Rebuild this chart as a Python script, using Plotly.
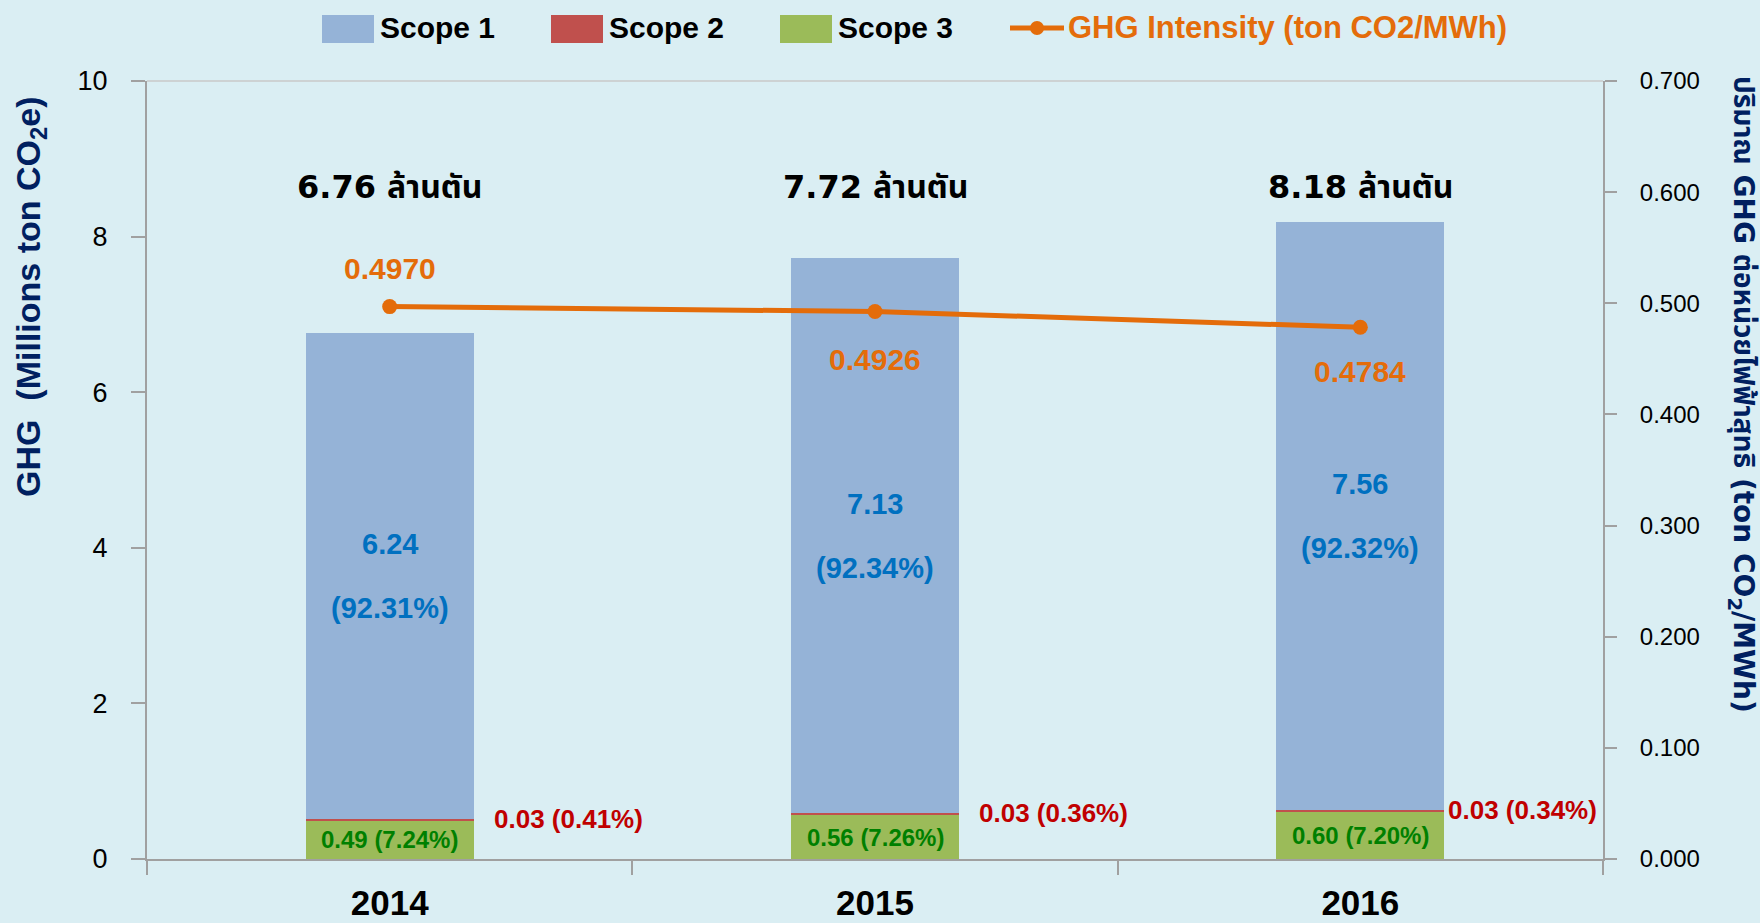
import plotly.graph_objects as go

# ---------------- data ----------------
years = ["2014", "2015", "2016"]
scope1 = [6.24, 7.13, 7.56]
scope2 = [0.03, 0.03, 0.03]
scope3 = [0.49, 0.56, 0.60]
scope1_pct = ["92.31%", "92.34%", "92.32%"]
scope2_pct = ["0.41%", "0.36%", "0.34%"]
scope3_pct = ["7.24%", "7.26%", "7.20%"]
totals = [6.76, 7.72, 8.18]
intensity = [0.4970, 0.4926, 0.4784]
y_ticks = [0, 2, 4, 6, 8, 10]
y2_ticks = [0.0, 0.1, 0.2, 0.3, 0.4, 0.5, 0.6, 0.7]
series_names = ["Scope 1", "Scope 2", "Scope 3", "GHG Intensity (ton CO2/MWh)"]

# ---------------- style ----------------
W, H = 1760, 923
ML, MR, MT, MB = 147, 157, 81, 64
PW, PH = W - ML - MR, H - MT - MB
BG = "#DAEEF3"
C1, C2, C3, CO = "#95B3D7", "#C0504D", "#9BBB59", "#E46C0A"
NAVY = "#002060"
AX = "#A0A0A0"
FONT = "Liberation Sans, Arial, sans-serif"
THAI = "DejaVu Sans, Noto Sans Thai, Loma, Garuda, sans-serif"


def px(x):
    return (x - ML) / PW


def py(y):
    return (H - MB - y) / PH


fig = go.Figure()
fig.add_trace(go.Bar(x=years, y=scope3, name=series_names[2], marker=dict(color=C3, line_width=0), showlegend=False))
fig.add_trace(go.Bar(x=years, y=scope2, name=series_names[1], marker=dict(color=C2, line_width=0), showlegend=False))
fig.add_trace(go.Bar(x=years, y=scope1, name=series_names[0], marker=dict(color=C1, line_width=0), showlegend=False))
fig.add_trace(go.Scatter(x=years, y=intensity, name=series_names[3], yaxis="y2", mode="lines+markers",
                         line=dict(color=CO, width=5), marker=dict(color=CO, size=15), showlegend=False))

ann = []
for i, yr in enumerate(years):
    base1 = scope3[i] + scope2[i]
    mid1 = base1 + scope1[i] / 2
    # Scope 1 labels
    ann.append(dict(x=i, y=mid1, yshift=32, text=f"<b>{scope1[i]:.2f}</b>", showarrow=False, yanchor="middle",
                    font=dict(family=FONT, size=29, color="#0070C0")))
    ann.append(dict(x=i, y=mid1, yshift=-32, text=f"<b>({scope1_pct[i]})</b>", showarrow=False, yanchor="middle",
                    font=dict(family=FONT, size=29, color="#0070C0")))
    # Scope 3 label
    ann.append(dict(x=i, y=scope3[i] / 2, text=f"<b>{scope3[i]:.2f} ({scope3_pct[i]})</b>", showarrow=False,
                    yanchor="middle", font=dict(family=FONT, size=24, color="#008000")))
    # Scope 2 label
    ann.append(dict(x=i, y=base1, xshift=[102, 102, 86][i], xanchor="left", yanchor="middle",
                    text=f"<b>{scope2[i]:.2f} ({scope2_pct[i]})</b>",
                    showarrow=False, font=dict(family=FONT, size=26, color="#C00000")))
    # total label
    ann.append(dict(x=i, y=8.64, text=f"<b>{totals[i]:.2f} ล้านตัน</b>", showarrow=False, yanchor="middle",
                    font=dict(family=THAI, size=32, color="#000000")))
    # intensity label
    ann.append(dict(x=i, y=intensity[i], yref="y2", yshift=[38, -48, -44][i], text=f"<b>{intensity[i]:.4f}</b>",
                    showarrow=False, yanchor="middle", font=dict(family=FONT, size=30, color=CO)))

# axis titles
ann.append(dict(xref="paper", yref="paper", x=px(30), y=py(297), xanchor="center", yanchor="middle",
                textangle=-90, showarrow=False,
                text="<b>GHG  (Millions ton CO<sub>2</sub>e)</b>", font=dict(family=FONT, size=34, color=NAVY)))
ann.append(dict(xref="paper", yref="paper", x=px(1742), y=py(394), xanchor="center", yanchor="middle",
                textangle=90, showarrow=False,
                text="<b>ปริมาณ GHG ต่อหน่วยไฟฟ้าสุทธิ (ton CO<sub>2</sub>/MWh)</b>",
                font=dict(family=THAI, size=28, color=NAVY)))

# custom legend
shapes = []
leg_sq = [(322, C1, series_names[0]), (551, C2, series_names[1]), (780, C3, series_names[2])]
for x0, col, nm in leg_sq:
    shapes.append(dict(type="rect", xref="paper", yref="paper", x0=px(x0), x1=px(x0 + 52), y0=py(43), y1=py(15),
                       fillcolor=col, line_width=0))
    ann.append(dict(xref="paper", yref="paper", x=px(x0 + 56), y=py(27), xanchor="left", yanchor="middle",
                    showarrow=False, text=f"<b>{nm}</b>", font=dict(family=FONT, size=30, color="#000000")))
shapes.append(dict(type="line", xref="paper", yref="paper", x0=px(1010), x1=px(1064), y0=py(28), y1=py(28),
                   line=dict(color=CO, width=5)))
shapes.append(dict(type="circle", xref="paper", yref="paper", x0=px(1030), x1=px(1044), y0=py(35), y1=py(21),
                   fillcolor=CO, line_width=0))
ann.append(dict(xref="paper", yref="paper", x=px(1066), y=py(27), xanchor="left", yanchor="middle",
                showarrow=False, text=f"<b>{series_names[3]}</b>", font=dict(family=FONT, size=31, color=CO)))
# top border of plot
shapes.append(dict(type="line", xref="paper", yref="paper", x0=0, x1=1, y0=1, y1=1, line=dict(color="#C8C8C8", width=1.5)))

fig.update_layout(
    width=W, height=H,
    margin=dict(l=ML, r=MR, t=MT, b=MB, pad=0, autoexpand=False),
    paper_bgcolor=BG, plot_bgcolor=BG,
    barmode="stack", bargap=0.654,
    showlegend=False,
    annotations=ann, shapes=shapes,
    xaxis=dict(type="category", tickson="boundaries", ticks="outside", ticklen=14, tickcolor=AX, tickwidth=1.5,
               showline=True, linecolor=AX, linewidth=2, showgrid=False, zeroline=False, automargin=False,
               tickangle=0, range=[-0.5, 2.5], ticklabelstandoff=12,
               tickfont=dict(family=FONT, size=35, color="#000000", weight="bold")),
    yaxis=dict(range=[0, 10], tickvals=y_ticks, ticks="outside", ticklen=14, tickcolor=AX, tickwidth=1.5,
               showline=True, linecolor=AX, linewidth=2, showgrid=False, zeroline=False, automargin=False,
               tickfont=dict(family=FONT, size=27, color="#000000"), ticklabelstandoff=18),
    yaxis2=dict(range=[0, 0.7], tickvals=y2_ticks, tickformat=".3f", overlaying="y", side="right",
                ticks="outside", ticklen=12, tickcolor=AX, tickwidth=1.5, automargin=False,
                showline=True, linecolor=AX, linewidth=2, showgrid=False, zeroline=False,
                tickfont=dict(family=FONT, size=24, color="#000000"), ticklabelstandoff=18),
)

fig.write_html("out.html", config={"displayModeBar": False},
               post_script="document.body.style.margin='0';document.body.style.background='#DAEEF3';")
